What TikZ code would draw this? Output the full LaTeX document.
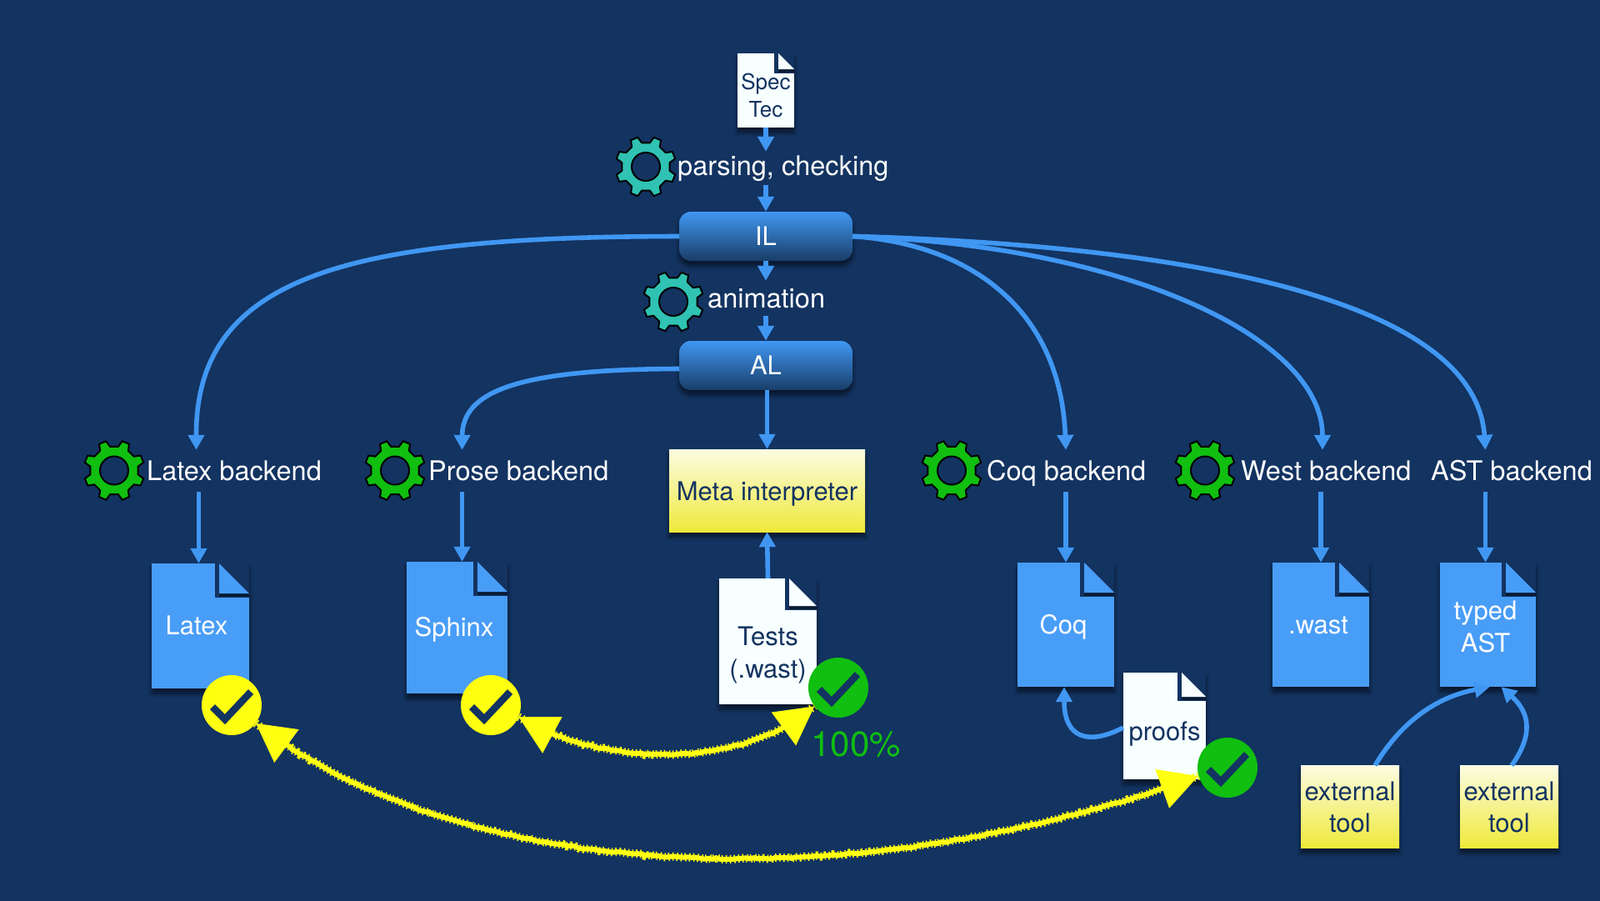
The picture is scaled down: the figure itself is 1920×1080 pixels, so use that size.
\documentclass[tikz,border=0pt]{standalone}
\usepackage{fontspec}
\setmainfont{TeX Gyre Heros}
\usetikzlibrary{arrows.meta,shadows.blur,decorations.pathmorphing}
\definecolor{bgblue}{HTML}{133361}
\definecolor{docblue}{HTML}{489DF7}
\definecolor{flowblue}{HTML}{4097F2}
\definecolor{docwhite}{HTML}{F7FFFF}
\definecolor{gearteal}{HTML}{30C2B2}
\definecolor{geargreen}{HTML}{10BF10}
\definecolor{markyellow}{HTML}{FFFF10}
\definecolor{toolpale}{HTML}{FBFCE2}
\definecolor{toolyellow}{HTML}{EFE93A}
\renewcommand{\arraystretch}{1.04}
\newcommand{\twolines}[2]{\begin{tabular}{@{}c@{}}#1\\#2\end{tabular}}
\newcommand{\lowered}[2]{\smash{\raisebox{-#1pt}{#2}}}
\tikzset{
  every node/.style={font=\fontsize{31}{38}\selectfont, inner sep=0},
  softshadow/.style={blur shadow={shadow xshift=0pt, shadow yshift=-6pt, shadow blur radius=5pt, shadow blur steps=6, shadow opacity=55}},
  flow/.style={draw=flowblue, line width=5.6, -{Triangle[width=19pt,length=18pt]}},
  rough/.style={draw=markyellow, line width=6, {Triangle[width=48pt,length=46pt]}-{Triangle[width=48pt,length=46pt]},
    decorate, decoration={random steps, segment length=5pt, amplitude=1pt, pre length=30pt, post length=30pt},
    postaction={draw=markyellow, -, line width=10, dash pattern=on 1.5pt off 3.5pt}},
  oneline/.style={text height=21, text depth=0},
  backlab/.style={text=white, font=\fontsize{32.5}{38}\selectfont, anchor=west, minimum height=50, text height=23, text depth=0},
  steplab/.style={text=white, font=\fontsize{32.5}{38}\selectfont, anchor=west},
  stage/.style={rounded corners=14, text=white, top color=flowblue, bottom color=flowblue!45!black!60!bgblue,
    minimum width=208, minimum height=59, softshadow},
  tool/.style={text=bgblue, top color=toolpale, bottom color=toolyellow, align=center, softshadow},
  doc/.style 2 args={fill=#1, align=center, softshadow,
    path picture={
      \fill[bgblue] ([xshift=-#2]path picture bounding box.north east) rectangle ([yshift=-#2]path picture bounding box.north east);
      \fill[black!45!bgblue] ([xshift=-#2+5,yshift=-#2+5]path picture bounding box.north east) rectangle ([yshift=-#2+1]path picture bounding box.north east);
      \fill[#1] ([xshift=-#2+5]path picture bounding box.north east) -- ([yshift=-#2+5]path picture bounding box.north east)
        -- ([xshift=-#2+5,yshift=-#2+5]path picture bounding box.north east) -- cycle;
    }},
  checkmark/.style={circle, fill=#1, minimum size=72,
    path picture={
      \draw[bgblue, line width=8.5, shift={(path picture bounding box.center)}] (-23,2) -- (-8,17) -- (23,-16);
    }},
  gear/.pic={
    \draw[fill=#1, draw=black, line width=2, even odd rule]
      (9.5:29) \foreach \a in {22.5,67.5,...,337.5} { -- (\a-13:29) -- (\a-7:36.5) -- (\a+7:36.5) -- (\a+13:29) } -- cycle
      (0,0) circle (17);
  },
}
\begin{document}
\begin{tikzpicture}[x=1pt,y=-1pt]
  \useasboundingbox (0,0) rectangle (1920,1080);
  \fill[bgblue] (-2,-2) rectangle (1922,1082);

  % source and the two middle stages
  \node[doc={docwhite}{24}, text=bgblue, minimum width=68, minimum height=89] (spec) at (919,108.5)
    {\fontsize{26}{32}\selectfont\lowered{15}{\twolines{Spec}{Tec}}};
  \node[steplab, minimum height=40] (parselab) at (813,202) {parsing, checking};
  \node[stage] (il) at (919,283.5) {IL};
  \node[steplab, minimum height=42] (animlab) at (849,358) {animation};
  \node[stage] (al) at (919,438.5) {AL};
  \pic at (775,200) {gear=gearteal};
  \pic at (808,362) {gear=gearteal};

  % backends
  \node[backlab] (latexlab) at (176,565) {Latex backend};
  \node[backlab] (proselab) at (514,565) {Prose backend};
  \node[backlab] (coqlab) at (1184,565) {Coq backend};
  \node[backlab] (westlab) at (1489,565) {West backend};
  \node[backlab] (astlab) at (1717,565) {AST backend};
  \pic at (137,564.5) {gear=geargreen};
  \pic at (474,564.5) {gear=geargreen};
  \pic at (1142,564.5) {gear=geargreen};
  \pic at (1446,564.5) {gear=geargreen};
  \node[tool, text height=23, text depth=0, minimum width=235, minimum height=99] (meta) at (920.5,588.5) {Meta interpreter};

  % outputs
  \node[doc={docblue}{41}, oneline, text=white, minimum width=117, minimum height=150] (latexdoc) at (240.5,751) {Latex\hspace*{9pt}};
  \node[doc={docblue}{41}, oneline, text=white, minimum width=121, minimum height=158] (sphinxdoc) at (548.5,753) {Sphinx\hspace*{7pt}};
  \node[doc={docblue}{41}, oneline, text=white, minimum width=116, minimum height=149] (coqdoc) at (1279,749.5) {Coq\hspace*{6pt}};
  \node[doc={docblue}{41}, oneline, text=white, minimum width=116, minimum height=149] (wastdoc) at (1585,749.5) {.wast\hspace*{6pt}};
  \node[doc={docblue}{41}, text=white, minimum width=115, minimum height=149] (astdoc) at (1785.5,749.5) {\lowered{12}{\twolines{typed}{AST}}\hspace*{6pt}};
  \node[doc={docwhite}{38}, text=bgblue, minimum width=117, minimum height=151] (testsdoc) at (921.5,769.5)
    {\lowered{23}{\twolines{Tests}{(.wast)}}};
  \node[doc={docwhite}{34}, text=bgblue, minimum width=99, minimum height=128] (proofsdoc) at (1397.5,871)
    {\lowered{17}{proofs}};
  \node[tool, minimum width=118, minimum height=99] (tool1) at (1620,968) {external\\tool};
  \node[tool, minimum width=118, minimum height=99] (tool2) at (1811,968) {external\\tool};

  % checks
  \node[checkmark=markyellow] (latexcheck) at (278,846) {};
  \node[checkmark=markyellow] (sphinxcheck) at (589,846) {};
  \node[checkmark=geargreen] (testscheck) at (1006,825) {};
  \node[checkmark=geargreen] (proofscheck) at (1473,921) {};
  \node[text=geargreen, font=\fontsize{42}{48}\selectfont] (hundred) at (1027,893) {100\%};

  % straight arrows
  \draw[flow] (spec.south) -- (parselab.north -| spec.south);
  \draw[flow] (parselab.south -| il.north) -- (il.north);
  \draw[flow] (il.south) -- (animlab.north -| il.south);
  \draw[flow] (animlab.south -| al.north) -- (al.north);
  \draw[flow] (al.south -| meta.north) -- (meta.north);
  \draw[flow] (testsdoc.north) -- (meta.south);
  \draw[flow] ([xshift=-2]latexlab.south -| latexdoc.north) -- ([xshift=-2]latexdoc.north);
  \draw[flow] ([xshift=6]proselab.south -| sphinxdoc.north) -- ([xshift=6]sphinxdoc.north);
  \draw[flow] (coqlab.south -| coqdoc.north) -- (coqdoc.north);
  \draw[flow] (westlab.south -| wastdoc.north) -- (wastdoc.north);
  \draw[flow] ([xshift=-3]astlab.south -| astdoc.north) -- ([xshift=-3]astdoc.north);

  % curved arrows
  \draw[flow] (il.west) .. controls (416,284) and (235,331) .. ([xshift=-5]latexlab.north -| latexdoc.north);
  \draw[flow] ([yshift=-4]al.west) .. controls (620,443) and (555,470) .. ([xshift=6]proselab.north -| sphinxdoc.north);
  \draw[flow] (il.east) .. controls (1175,294) and (1273,380) .. (coqlab.north -| coqdoc.north);
  \draw[flow] (il.east) .. controls (1347,294) and (1587,404) .. ([xshift=2]westlab.north -| wastdoc.north);
  \draw[flow] (il.east) .. controls (1408,294) and (1770,355) .. ([xshift=-3]astlab.north -| astdoc.north);
  \draw[flow] (proofsdoc.west |- 0,873) .. controls (1305,895) and (1277,885) .. ([xshift=-2]coqdoc.south);
  \draw[flow] ([xshift=30]tool1.north) .. controls (1685,860) and (1730,835) .. ([xshift=2]astdoc.south);
  \draw[flow] ([xshift=3]tool2.north) .. controls (1845,875) and (1830,850) .. ([xshift=16]astdoc.south);

  % yellow hand-drawn arrows
  \draw[rough] (latexcheck.-37) .. controls (540,1050) and (1000,1090) .. (proofscheck.196);
  \draw[rough] (sphinxcheck.-23) .. controls (710,915) and (880,930) .. (testscheck.218);
\end{tikzpicture}
\end{document}
